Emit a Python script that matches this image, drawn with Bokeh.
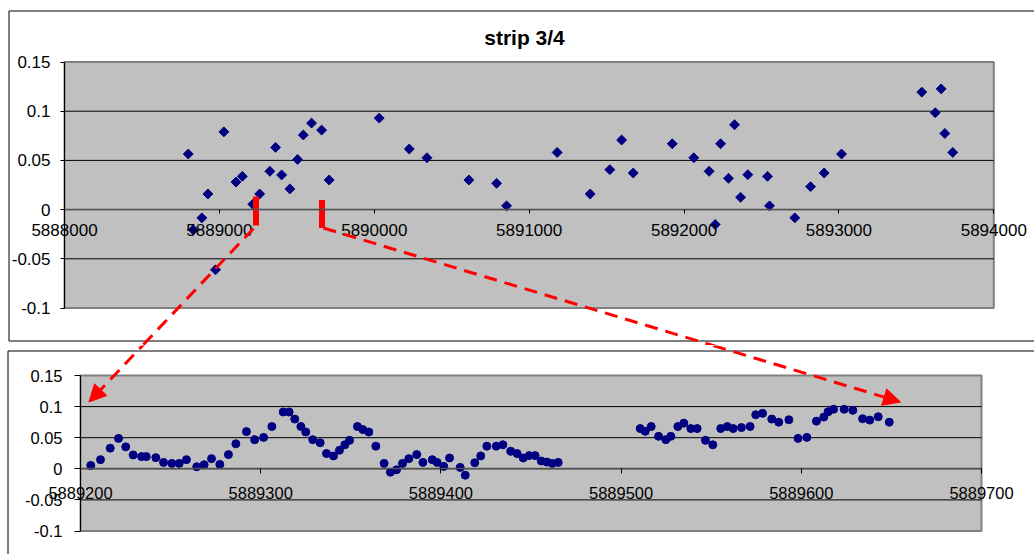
import numpy as np
from bokeh.plotting import figure
from bokeh.models import (FixedTicker, CustomJSTickFormatter, BoxAnnotation, Arrow,
                          NormalHead, Range1d, Label)
from bokeh.layouts import column
from bokeh.embed import file_html
from bokeh.resources import INLINE

# ---------------- data ----------------
title_text = "strip 3/4"

top_x = [5888799, 5888831, 5888887, 5888926, 5888975, 5889029, 5889107, 5889148, 5889216, 5889260,
         5889326, 5889363, 5889402, 5889455, 5889505, 5889542, 5889595, 5889660, 5889709, 5890032,
         5890226, 5890340, 5890611, 5890790, 5890854, 5891181, 5891394, 5891521, 5891597, 5891672,
         5891924, 5892063, 5892162, 5892201, 5892236, 5892287, 5892326, 5892365, 5892412, 5892539,
         5892552, 5892715, 5892817, 5892905, 5893017, 5893535, 5893622, 5893660, 5893684, 5893735]
top_y = [0.0565, -0.0206, -0.0084, 0.0159, -0.0612, 0.079, 0.028, 0.0338, 0.0054, 0.0159,
         0.0389, 0.0632, 0.0352, 0.021, 0.051, 0.0758, 0.0879, 0.0808, 0.0301, 0.093,
         0.0616, 0.0527, 0.0301, 0.0267, 0.0038, 0.0581, 0.0159, 0.0406, 0.0707, 0.0372,
         0.0669, 0.0527, 0.0389, -0.0152, 0.0669, 0.0318, 0.0862, 0.0125, 0.0355, 0.0338,
         0.0038, -0.0084, 0.0233, 0.0372, 0.0565, 0.1194, 0.0984, 0.1227, 0.0774, 0.0581]

zoom_x = [5889205.7, 5889211.1, 5889216.5, 5889221.1, 5889225.1, 5889229.2, 5889233.9, 5889236.5,
          5889241.8, 5889246.1, 5889250.7, 5889254.8, 5889258.8, 5889264.5, 5889268.6, 5889272.7,
          5889277.3, 5889282.1, 5889286.2, 5889292.1, 5889296.7, 5889301.6, 5889306.2, 5889312.5,
          5889315.8, 5889318.9, 5889322.3, 5889325.0, 5889328.9, 5889333.0, 5889336.5, 5889340.4,
          5889343.7, 5889346.7, 5889349.3, 5889353.7, 5889356.7, 5889360.0, 5889363.9, 5889368.5,
          5889372.0, 5889375.4, 5889378.7, 5889382.2, 5889386.6, 5889390.0, 5889395.2, 5889397.9,
          5889401.6, 5889404.8, 5889410.7, 5889413.5, 5889418.8, 5889422.1, 5889425.5, 5889430.7,
          5889434.4, 5889438.8, 5889442.3, 5889445.7, 5889449.0, 5889452.3, 5889455.7, 5889458.8,
          5889461.8, 5889465.1,
          5889510.6, 5889513.4, 5889516.7, 5889520.8, 5889524.8, 5889527.6, 5889531.5, 5889534.8,
          5889538.7, 5889542.2, 5889546.8, 5889550.9, 5889555.3, 5889558.9, 5889562.2, 5889566.8,
          5889571.6, 5889574.7, 5889578.5, 5889583.6, 5889587.5, 5889593.1, 5889598.2, 5889603.1,
          5889608.4, 5889612.5, 5889614.9, 5889617.9, 5889623.8, 5889628.6, 5889634.0, 5889638.0,
          5889642.7, 5889648.8]
zoom_y = [0.0054, 0.0147, 0.0332, 0.0489, 0.0353, 0.0223, 0.0196, 0.0196,
          0.0179, 0.0103, 0.0087, 0.0087, 0.0147, 0.0033, 0.0065, 0.0163,
          0.0071, 0.0228, 0.0402, 0.0598, 0.0468, 0.0505, 0.068, 0.0913,
          0.0913, 0.0799, 0.068, 0.0592, 0.0468, 0.0419, 0.0245, 0.0207,
          0.0298, 0.0386, 0.0457, 0.068, 0.0631, 0.0592, 0.0364, 0.0087,
          -0.0054, -0.0016, 0.0087, 0.0163, 0.0228, 0.0103, 0.0147, 0.0103,
          0.0038, 0.0174, 0.0022, -0.0103, 0.0098, 0.0207, 0.0364, 0.0364,
          0.0386, 0.0282, 0.0245, 0.0174, 0.0212, 0.0212, 0.0125, 0.0109,
          0.0087, 0.0103,
          0.0647, 0.0603, 0.068, 0.0522, 0.0468, 0.0522, 0.068, 0.0734,
          0.0647, 0.0647, 0.0457, 0.0386, 0.0647, 0.068, 0.0647, 0.0663,
          0.068, 0.0869, 0.0892, 0.0799, 0.075, 0.0788, 0.0489, 0.0505,
          0.0766, 0.0832, 0.0918, 0.0957, 0.0957, 0.094, 0.0804, 0.0783,
          0.0837, 0.075]

top_xticks = [5888000, 5889000, 5890000, 5891000, 5892000, 5893000, 5894000]
zoom_xticks = [5889200, 5889300, 5889400, 5889500, 5889600, 5889700]
y_ticks = [-0.1, -0.05, 0, 0.05, 0.1, 0.15]
grid_ticks = [-0.05, 0, 0.05, 0.1]

# ---------------- layout (page pixels) ----------------
FONT = "Liberation Sans"
NAVY = "#000080"
BG = "#C0C0C0"
W = 1034
H1, H2 = 345, 209
OFF2 = H1                       # page y where the lower canvas starts
G1 = (64.0, 61.5, 993.3, 307.5)  # plot area of upper chart: left, top, right, bottom
G2 = (80.0, 375.0, 981.0, 530.5)  # plot area of lower chart


class Mapper:
    def __init__(self, g, xr, yr):
        self.g, self.xr, self.yr = g, xr, yr
        self.ux = (xr[1] - xr[0]) / (g[2] - g[0])
        self.uy = (yr[1] - yr[0]) / (g[3] - g[1])

    def __call__(self, px, py):
        return (self.xr[0] + (px - self.g[0]) * self.ux,
                self.yr[1] - (py - self.g[1]) * self.uy)


YR = (y_ticks[0], y_ticks[-1])
m1 = Mapper(G1, (top_xticks[0], top_xticks[-1]), YR)
m2 = Mapper(G2, (zoom_xticks[0], zoom_xticks[-1]), YR)

num_fmt = CustomJSTickFormatter(code="return String(Math.round(tick*100)/100)")
int_fmt = CustomJSTickFormatter(code="return tick.toFixed(0)")


def make_fig(m, top_px, height, xticks, fsize, xt_out, xt_stand, yt_out, yt_stand):
    x0, y_top = m(0, top_px)
    x1, y_bot = m(W, top_px + height)
    p = figure(width=W, height=height, x_range=Range1d(x0, x1), y_range=Range1d(y_bot, y_top),
               output_backend="svg", toolbar_location=None, min_border=0)
    p.outline_line_color = None
    p.background_fill_color = "white"
    p.border_fill_color = "white"
    # plot area
    p.quad(left=[xticks[0]], right=[xticks[-1]], bottom=[YR[0]], top=[YR[1]],
           fill_color=BG, line_color="#808080", line_width=2, level="image")
    # horizontal gridlines, limited to the plot area
    p.xgrid.visible = False
    p.ygrid.visible = False
    p.segment(x0=[xticks[0]] * len(grid_ticks), x1=[xticks[-1]] * len(grid_ticks),
              y0=grid_ticks, y1=grid_ticks, line_color="black", line_width=1, level="underlay")
    # axes
    p.xaxis.fixed_location = 0
    p.xaxis.bounds = (xticks[0], xticks[-1])
    p.xaxis.ticker = FixedTicker(ticks=xticks)
    p.xaxis.formatter = int_fmt
    p.xaxis.major_tick_out = xt_out
    p.xaxis.major_label_standoff = xt_stand
    p.xaxis.axis_line_color = "#505050"
    p.xaxis.axis_line_width = 1.5
    p.yaxis.fixed_location = xticks[0]
    p.yaxis.bounds = YR
    p.yaxis.ticker = FixedTicker(ticks=y_ticks)
    p.yaxis.formatter = num_fmt
    p.yaxis.major_tick_out = yt_out
    p.yaxis.major_label_standoff = yt_stand
    p.yaxis.axis_line_color = "black"
    for ax in (p.xaxis, p.yaxis):
        ax.major_tick_line_color = "black"
        ax.minor_tick_line_color = None
        ax.major_tick_in = 0
        ax.major_label_text_font = FONT
        ax.major_label_text_font_size = fsize
        ax.major_label_text_color = "black"
    return p


# ---- upper chart ----
p1 = make_fig(m1, 0, H1, top_xticks, "17px", 4, 10, 4, 10)
p1.scatter(top_x, top_y, marker="square", angle=np.pi / 4, size=7,
           fill_color=NAVY, line_color=NAVY)
tx, ty = m1(524, 37)
p1.add_layout(Label(x=tx, y=ty, text=title_text, text_align="center", text_baseline="middle",
                    text_font=FONT, text_font_size="21px", text_font_style="bold",
                    text_color="black"))
fl, ft = m1(8.5, 10.5)
fr, fb = m1(1200, 340.5)
p1.add_layout(BoxAnnotation(left=fl, right=fr, top=ft, bottom=fb, fill_alpha=0,
                            line_color="black", line_alpha=1, line_width=1))

# zoom-window markers and connector lines (page-pixel geometry)
BARS = [(255.5, 196, 225), (321.5, 199.5, 227.5)]
ARROWS = [((253, 228), (88.5, 401.5)), ((323, 227.5), (900, 401.5))]


def point_at_y(a, b, y):
    t = (y - a[1]) / (b[1] - a[1])
    return (a[0] + t * (b[0] - a[0]), y)


for a, b in ARROWS:
    s = m1(*a)
    e = m1(*point_at_y(a, b, OFF2 + 6))
    p1.add_layout(Arrow(end=None, x_start=s[0], y_start=s[1], x_end=e[0], y_end=e[1],
                        line_color="red", line_width=3, line_dash="13 8"))
bx0, by0, bx1, by1 = [], [], [], []
for (x, ya, yb) in BARS:
    d0 = m1(x, ya)
    d1 = m1(x, yb)
    bx0.append(d0[0]); by0.append(d0[1]); bx1.append(d1[0]); by1.append(d1[1])
p1.segment(bx0, by0, bx1, by1, line_color="red", line_width=6, line_cap="butt")

# ---- lower chart ----
p2 = make_fig(m2, OFF2, H2, zoom_xticks, "16.5px", 5, 13, 6, 12)
p2.scatter(zoom_x, zoom_y, marker="circle", size=8, fill_color=NAVY, line_color=NAVY)
gl, gt = m2(7.5, 350.5)
gr, gb = m2(1200, 700)
p2.add_layout(BoxAnnotation(left=gl, right=gr, top=gt, bottom=gb, fill_alpha=0,
                            line_color="black", line_alpha=1, line_width=1))
for a, b in ARROWS:
    s = m2(*point_at_y(a, b, OFF2 - 6))
    e = m2(*b)
    p2.add_layout(Arrow(end=NormalHead(size=17, fill_color="red", line_color="red", line_width=1),
                        x_start=s[0], y_start=s[1], x_end=e[0], y_end=e[1],
                        line_color="red", line_width=3, line_dash="13 8"))

layout = column(p1, p2, spacing=0)
open("out.html", "w").write(file_html(layout, INLINE))
